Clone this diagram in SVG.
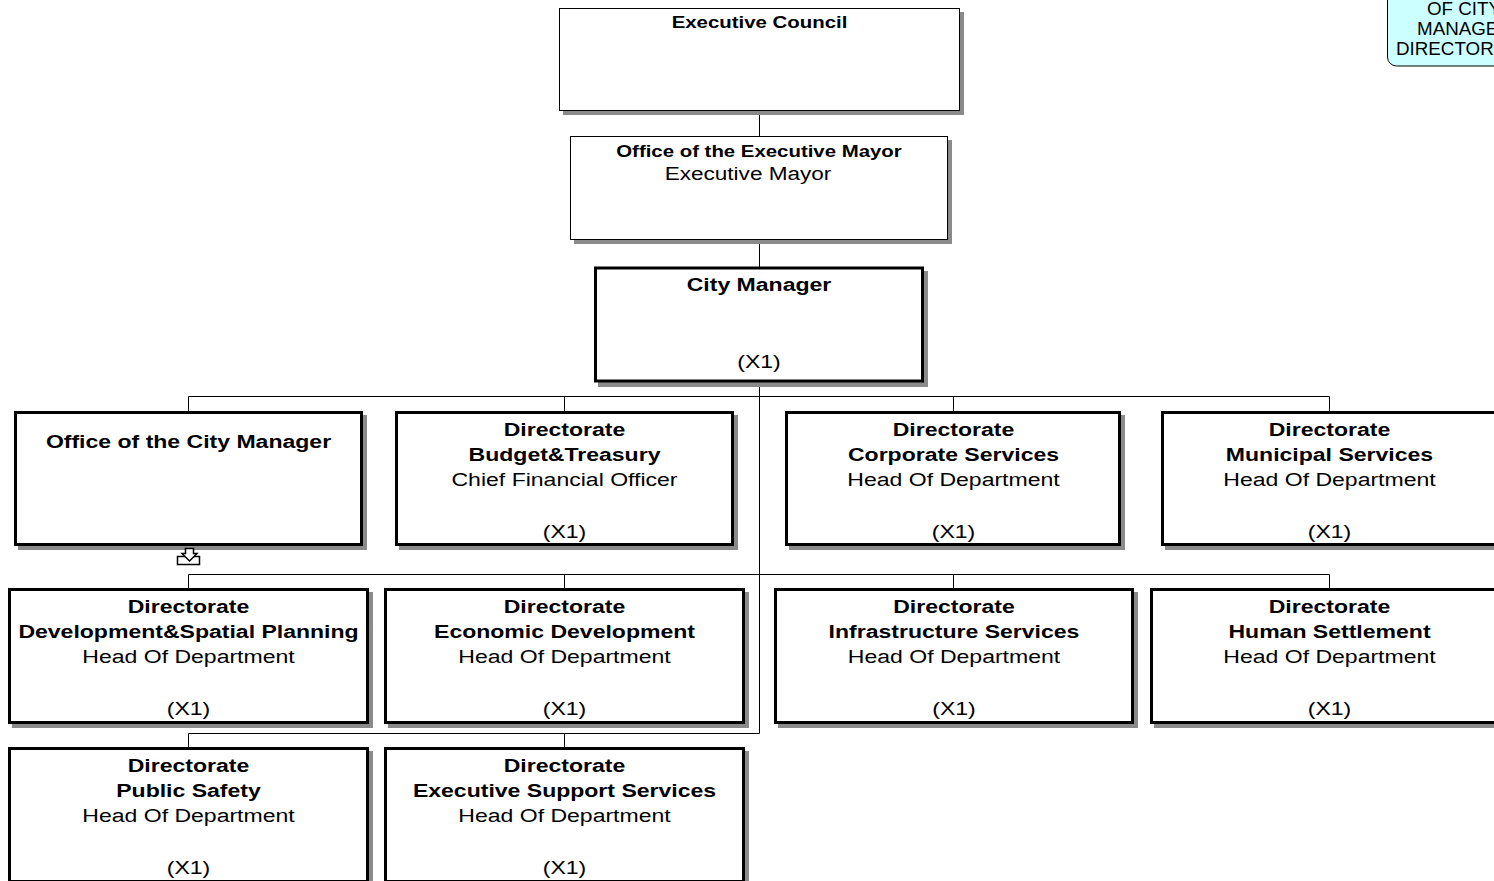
<svg xmlns="http://www.w3.org/2000/svg" width="1494" height="881" viewBox="0 0 1494 881">
<style>
.bg{fill:#fff}
.sh{fill:#8a8a8a}
.thin{fill:#fff;stroke:#000;stroke-width:1}
.thick{fill:#fff;stroke:#000;stroke-width:3}
.ln{stroke:#000;stroke-width:1;fill:none}
text{font-family:"Liberation Sans",Arial,sans-serif;fill:#000;text-anchor:middle}
.b{font-weight:bold;font-size:19.2px}
.r{font-size:19.2px}
.tb{font-weight:bold;font-size:17px}
.tr{font-size:18.8px}
.note{font-size:18.8px;text-anchor:start}
</style>
<rect class="bg" x="0" y="0" width="1494" height="881"/>

<g id="connectors">
<path class="ln" d="M759.5,110 V137 M759.5,239 V267 M759.5,382 V733.5"/>
<path class="ln" d="M188.5,396.5 H1329.5 M188.5,396.5 V411 M564.5,396.5 V411 M953.5,396.5 V411 M1329.5,396.5 V411"/>
<path class="ln" d="M188.5,574.5 H1329.5 M188.5,574.5 V588 M564.5,574.5 V588 M953.5,574.5 V588 M1329.5,574.5 V588"/>
<path class="ln" d="M188.5,733.5 H759.5 M188.5,733.5 V747 M564.5,733.5 V747"/>
</g>

<g id="note">
<rect x="1387.5" y="-20" width="140" height="86" rx="9" fill="#ccffff" stroke="#000" stroke-width="1"/>
<text class="note" x="1427" y="15">OF CITY</text>
<text class="note" x="1417" y="35">MANAGE</text>
<text class="note" x="1396" y="55">DIRECTOR</text>
</g>

<g id="executive-council">
<rect class="sh" x="563" y="12" width="401" height="103"/>
<rect class="thin" x="559.5" y="8.5" width="400" height="102"/>
<g transform="matrix(1.2 0 0 1 759.5 0)"><text class="tb" x="0" y="28">Executive Council</text></g>
</g>

<g id="executive-mayor">
<rect class="sh" x="574" y="140" width="378" height="104"/>
<rect class="thin" x="570.5" y="136.5" width="377" height="103"/>
<g transform="matrix(1.2 0 0 1 759 0)"><text class="tb" x="0" y="157">Office of the Executive Mayor</text></g>
<g transform="matrix(1.2 0 0 1 748 0)"><text class="tr" x="0" y="180">Executive Mayor</text></g>
</g>

<g id="city-manager">
<rect class="sh" x="598" y="271" width="330" height="116"/>
<rect class="thick" x="595.5" y="268" width="327" height="113"/>
<g transform="matrix(1.2 0 0 1 759 0)"><text class="b" x="0" y="291">City Manager</text><text class="r" x="0" y="368.5">(X1)</text></g>
</g>

<g id="office-city-manager">
<rect class="sh" x="18" y="415" width="349" height="135"/>
<rect class="thick" x="15.5" y="412.5" width="346" height="132"/>
<g transform="matrix(1.2 0 0 1 188.5 0)"><text class="b" x="0" y="448">Office of the City Manager</text></g>
<rect x="177.5" y="556.5" width="22" height="8" fill="#fff" stroke="#000" stroke-width="1.5"/>
<path d="M185.5,548.5 H193.5 V553.5 H197 L189.5,561 L182,553.5 H185.5 Z" fill="#fff" stroke="#000" stroke-width="1.5" stroke-linejoin="miter"/>
</g>

<g id="budget-treasury">
<rect class="sh" x="399" y="415" width="339" height="135"/>
<rect class="thick" x="396.5" y="412.5" width="336" height="132"/>
<g transform="matrix(1.2 0 0 1 564.5 0)"><text class="b" x="0" y="436">Directorate</text><text class="b" x="0" y="461">Budget&amp;Treasury</text><text class="r" x="0" y="486">Chief Financial Officer</text><text class="r" x="0" y="538.5">(X1)</text></g>
</g>

<g id="corporate-services">
<rect class="sh" x="789" y="415" width="336" height="135"/>
<rect class="thick" x="786.5" y="412.5" width="333" height="132"/>
<g transform="matrix(1.2 0 0 1 953.5 0)"><text class="b" x="0" y="436">Directorate</text><text class="b" x="0" y="461">Corporate Services</text><text class="r" x="0" y="486">Head Of Department</text><text class="r" x="0" y="538.5">(X1)</text></g>
</g>

<g id="municipal-services">
<rect class="sh" x="1165" y="415" width="337" height="135"/>
<rect class="thick" x="1162.5" y="412.5" width="334" height="132"/>
<g transform="matrix(1.2 0 0 1 1329.5 0)"><text class="b" x="0" y="436">Directorate</text><text class="b" x="0" y="461">Municipal Services</text><text class="r" x="0" y="486">Head Of Department</text><text class="r" x="0" y="538.5">(X1)</text></g>
</g>

<g id="development-spatial-planning">
<rect class="sh" x="12" y="592" width="361" height="136"/>
<rect class="thick" x="9.5" y="589.5" width="358" height="133"/>
<g transform="matrix(1.2 0 0 1 188.5 0)"><text class="b" x="0" y="613">Directorate</text><text class="b" x="0" y="638">Development&amp;Spatial Planning</text><text class="r" x="0" y="663">Head Of Department</text><text class="r" x="0" y="715.5">(X1)</text></g>
</g>

<g id="economic-development">
<rect class="sh" x="388" y="592" width="361" height="136"/>
<rect class="thick" x="385.5" y="589.5" width="358" height="133"/>
<g transform="matrix(1.2 0 0 1 564.5 0)"><text class="b" x="0" y="613">Directorate</text><text class="b" x="0" y="638">Economic Development</text><text class="r" x="0" y="663">Head Of Department</text><text class="r" x="0" y="715.5">(X1)</text></g>
</g>

<g id="infrastructure-services">
<rect class="sh" x="778" y="592" width="360" height="136"/>
<rect class="thick" x="775.5" y="589.5" width="357" height="133"/>
<g transform="matrix(1.2 0 0 1 954 0)"><text class="b" x="0" y="613">Directorate</text><text class="b" x="0" y="638">Infrastructure Services</text><text class="r" x="0" y="663">Head Of Department</text><text class="r" x="0" y="715.5">(X1)</text></g>
</g>

<g id="human-settlement">
<rect class="sh" x="1154" y="592" width="361" height="136"/>
<rect class="thick" x="1151.5" y="589.5" width="358" height="133"/>
<g transform="matrix(1.2 0 0 1 1329.5 0)"><text class="b" x="0" y="613">Directorate</text><text class="b" x="0" y="638">Human Settlement</text><text class="r" x="0" y="663">Head Of Department</text><text class="r" x="0" y="715.5">(X1)</text></g>
</g>

<g id="public-safety">
<rect class="sh" x="12" y="751" width="361" height="136"/>
<rect class="thick" x="9.5" y="748.5" width="358" height="133"/>
<g transform="matrix(1.2 0 0 1 188.5 0)"><text class="b" x="0" y="772">Directorate</text><text class="b" x="0" y="797">Public Safety</text><text class="r" x="0" y="822">Head Of Department</text><text class="r" x="0" y="874.5">(X1)</text></g>
</g>

<g id="executive-support-services">
<rect class="sh" x="388" y="751" width="361" height="136"/>
<rect class="thick" x="385.5" y="748.5" width="358" height="133"/>
<g transform="matrix(1.2 0 0 1 564.5 0)"><text class="b" x="0" y="772">Directorate</text><text class="b" x="0" y="797">Executive Support Services</text><text class="r" x="0" y="822">Head Of Department</text><text class="r" x="0" y="874.5">(X1)</text></g>
</g>
</svg>
